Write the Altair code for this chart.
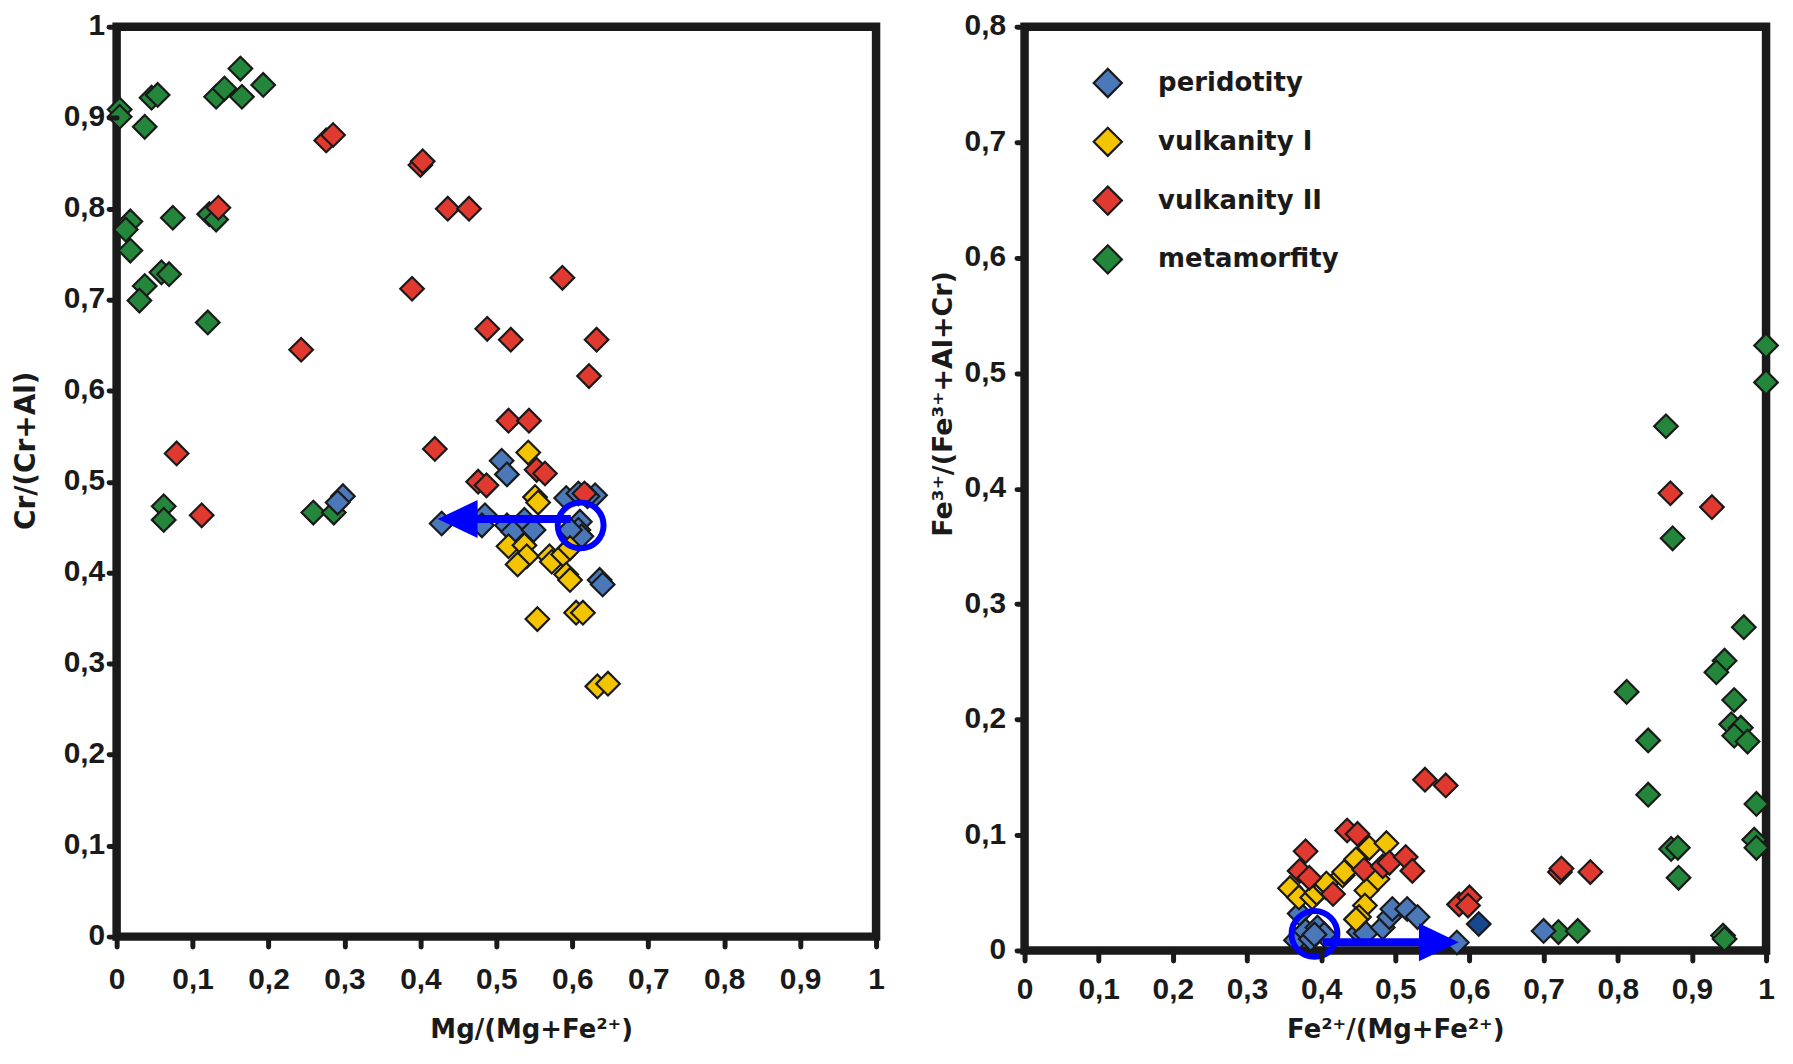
import altair as alt
import pandas as pd

SERIES = ["peridotity", "vulkanity I", "vulkanity II", "metamorfity"]
COLORS = ["#4a78b8", "#f5c400", "#e0392f", "#23863a"]
DRAW_ORDER = {"metamorfity": 0, "peridotity": 1, "vulkanity I": 2, "vulkanity II": 3}

# ---------------- Left panel: Mg/(Mg+Fe2+) vs Cr/(Cr+Al) ----------------
left_peridotity_x = [0.298, 0.291, 0.507, 0.514, 0.428, 0.485, 0.481, 0.514, 0.522, 0.537,
                     0.549, 0.592, 0.608, 0.630, 0.610, 0.608, 0.612, 0.597, 0.636, 0.640, 0.620]
left_peridotity_y = [0.484, 0.477, 0.523, 0.508, 0.454, 0.463, 0.452, 0.452, 0.445, 0.458,
                     0.447, 0.482, 0.487, 0.485, 0.456, 0.447, 0.440, 0.447, 0.392, 0.387, 0.484]

left_vulk1_x = [0.542, 0.551, 0.555, 0.516, 0.537, 0.540, 0.528, 0.570, 0.573, 0.588,
                0.597, 0.592, 0.597, 0.554, 0.605, 0.614, 0.633, 0.647]
left_vulk1_y = [0.532, 0.483, 0.477, 0.429, 0.430, 0.418, 0.409, 0.418, 0.412, 0.420,
                0.427, 0.398, 0.392, 0.349, 0.356, 0.356, 0.275, 0.278]

left_vulk2_x = [0.134, 0.276, 0.285, 0.400, 0.403, 0.436, 0.464, 0.389, 0.587, 0.488,
                0.519, 0.632, 0.622, 0.243, 0.079, 0.419, 0.516, 0.543, 0.553, 0.564,
                0.476, 0.487, 0.616, 0.112]
left_vulk2_y = [0.801, 0.875, 0.881, 0.848, 0.852, 0.800, 0.800, 0.712, 0.724, 0.668,
                0.656, 0.656, 0.616, 0.645, 0.531, 0.536, 0.567, 0.567, 0.513, 0.509,
                0.500, 0.496, 0.487, 0.463]

left_meta_x = [0.004, 0.004, 0.037, 0.046, 0.054, 0.163, 0.131, 0.142, 0.165, 0.193,
               0.018, 0.012, 0.018, 0.074, 0.122, 0.131, 0.059, 0.069, 0.037, 0.030,
               0.120, 0.062, 0.062, 0.259, 0.286]
left_meta_y = [0.909, 0.901, 0.890, 0.922, 0.925, 0.954, 0.923, 0.932, 0.923, 0.936,
               0.786, 0.777, 0.754, 0.790, 0.794, 0.788, 0.730, 0.728, 0.715, 0.699,
               0.675, 0.473, 0.458, 0.466, 0.466]

# annotation (blue circle + arrow) of the left panel
left_circle_x = [0.611]
left_circle_y = [0.452]
left_arrow_x1 = [0.598]
left_arrow_x2 = [0.449]
left_arrow_y = [0.459]

# ---------------- Right panel: Fe2+/(Mg+Fe2+) vs Fe3+/(Fe3+ +Al+Cr) ----------------
right_peridotity_x = [0.366, 0.371, 0.379, 0.395, 0.404, 0.386, 0.391, 0.451, 0.460, 0.483,
                      0.492, 0.496, 0.516, 0.530, 0.583, 0.700]
right_peridotity_y = [0.009, 0.032, 0.017, 0.020, 0.014, 0.010, 0.014, 0.016, 0.015, 0.020,
                      0.029, 0.036, 0.036, 0.029, 0.007, 0.017]
right_dark_x = [0.6125]
right_dark_y = [0.023]

right_vulk1_x = [0.358, 0.370, 0.388, 0.394, 0.406, 0.407, 0.429, 0.431, 0.447, 0.465,
                 0.488, 0.476, 0.461, 0.459, 0.451, 0.447]
right_vulk1_y = [0.054, 0.046, 0.046, 0.050, 0.055, 0.058, 0.065, 0.068, 0.079, 0.089,
                 0.093, 0.062, 0.052, 0.039, 0.029, 0.027]

right_vulk2_x = [0.540, 0.568, 0.435, 0.449, 0.379, 0.371, 0.384, 0.416, 0.458, 0.483,
                 0.492, 0.514, 0.523, 0.586, 0.600, 0.598, 0.722, 0.724, 0.763, 0.871, 0.927]
right_vulk2_y = [0.148, 0.143, 0.104, 0.101, 0.086, 0.069, 0.063, 0.049, 0.070, 0.073,
                 0.076, 0.081, 0.069, 0.040, 0.046, 0.039, 0.068, 0.071, 0.068, 0.396, 0.384]

right_meta_x = [1.000, 1.000, 0.865, 0.874, 0.970, 0.944, 0.933, 0.812, 0.957, 0.953,
                0.966, 0.957, 0.975, 0.841, 0.841, 0.987, 0.872, 0.881, 0.984, 0.987,
                0.882, 0.942, 0.944, 0.720, 0.746]
right_meta_y = [0.524, 0.492, 0.454, 0.357, 0.280, 0.251, 0.241, 0.224, 0.217, 0.196,
                0.193, 0.186, 0.181, 0.182, 0.135, 0.127, 0.088, 0.089, 0.096, 0.089,
                0.063, 0.013, 0.010, 0.016, 0.017]

right_circle_x = [0.391]
right_circle_y = [0.0144]
right_arrow_x1 = [0.402]
right_arrow_x2 = [0.5587]
right_arrow_y = [0.0072]

X_TICKS = [0, 0.1, 0.2, 0.3, 0.4, 0.5, 0.6, 0.7, 0.8, 0.9, 1]
Y_TICKS_LEFT = [0, 0.1, 0.2, 0.3, 0.4, 0.5, 0.6, 0.7, 0.8, 0.9, 1]
Y_TICKS_RIGHT = [0, 0.1, 0.2, 0.3, 0.4, 0.5, 0.6, 0.7, 0.8]


def build(series_lists):
    rows = []
    for name, xs, ys in series_lists:
        for x, y in zip(xs, ys):
            rows.append({"x": x, "y": y, "series": name, "z": DRAW_ORDER[name]})
    return pd.DataFrame(rows)


left_df = build([
    ("metamorfity", left_meta_x, left_meta_y),
    ("peridotity", left_peridotity_x, left_peridotity_y),
    ("vulkanity I", left_vulk1_x, left_vulk1_y),
    ("vulkanity II", left_vulk2_x, left_vulk2_y),
])
right_df = build([
    ("metamorfity", right_meta_x, right_meta_y),
    ("peridotity", right_peridotity_x, right_peridotity_y),
    ("vulkanity I", right_vulk1_x, right_vulk1_y),
    ("vulkanity II", right_vulk2_x, right_vulk2_y),
])

INK = "#1a1a1a"
BLUE = "#0000ff"
LABEL_EXPR = "replace(format(datum.value, '.1~f'), '.', ',')"
TICK_FONT = "Liberation Sans, Arial, sans-serif"
TITLE_FONT = "DejaVu Sans, sans-serif"
HEAD = "M-1,0L1,-0.95L1,0.95Z"
HEAD_R = "M1,0L-1,-0.95L-1,0.95Z"
PT_SIZE = 560


def common_axis(**kw):
    base = dict(grid=False, domain=False, labelExpr=LABEL_EXPR, labelFont=TICK_FONT,
                labelFontWeight="bold", labelFontSize=30, labelColor=INK,
                labelFlush=False, labelOverlap=False, labelBound=False,
                tickColor=INK, tickWidth=5, tickCap="round",
                titleFont=TITLE_FONT, titleFontWeight="bold", titleColor=INK,
                titleBaseline="alphabetic", titleAlign="center", zindex=1)
    base.update(kw)
    return alt.Axis(**base)


def panel(df, width, height, ymax, xaxis, yaxis, legend, circ, arrow, head_shape, head_x,
          extra=None):
    xs = alt.Scale(domain=[0, 1], nice=False, zero=False)
    ys = alt.Scale(domain=[0, ymax], nice=False, zero=False)
    pts = alt.Chart(df).mark_point(
        shape="diamond", filled=True, size=PT_SIZE, stroke=INK, strokeWidth=2.2, opacity=1
    ).encode(
        x=alt.X("x:Q", scale=xs, axis=xaxis),
        y=alt.Y("y:Q", scale=ys, axis=yaxis),
        color=alt.Color("series:N", scale=alt.Scale(domain=SERIES, range=COLORS), legend=legend),
        order=alt.Order("z:Q"),
    )
    layers = [pts]
    if extra is not None:
        ex, ey, ecolor = extra
        layers.append(alt.Chart(pd.DataFrame({"x": ex, "y": ey})).mark_point(
            shape="diamond", filled=True, size=PT_SIZE, fill=ecolor, stroke=INK,
            strokeWidth=2.2, opacity=1
        ).encode(x=alt.X("x:Q", scale=xs), y=alt.Y("y:Q", scale=ys)))
    cx, cy = circ
    ax1, ax2, ay = arrow
    circ_df = pd.DataFrame({"x": cx, "y": cy})
    arr_df = pd.DataFrame({"x1": ax1, "x2": ax2, "y": ay})
    head_df = pd.DataFrame({"x": head_x, "y": ay})
    layers.append(alt.Chart(arr_df).mark_rule(color=BLUE, strokeWidth=8).encode(
        x=alt.X("x1:Q", scale=xs), x2="x2:Q", y=alt.Y("y:Q", scale=ys)))
    layers.append(alt.Chart(head_df).mark_point(
        shape=head_shape, filled=True, fill=BLUE, size=1600, strokeWidth=0, opacity=1
    ).encode(x=alt.X("x:Q", scale=xs), y=alt.Y("y:Q", scale=ys)))
    layers.append(alt.Chart(circ_df).mark_point(
        shape="circle", filled=False, size=2116, stroke=BLUE, strokeWidth=6, opacity=1
    ).encode(x=alt.X("x:Q", scale=xs), y=alt.Y("y:Q", scale=ys)))
    return alt.layer(*layers).properties(width=width, height=height)


left = panel(
    left_df, 762, 913, 1,
    common_axis(values=X_TICKS, tickSize=10, labelPadding=18,
                title="Mg/(Mg+Fe²⁺)", titleFontSize=26, titleX=416, titleY=101),
    common_axis(values=Y_TICKS_LEFT, tickSize=8, labelPadding=4, labelOffset=-1,
                title="Cr/(Cr+Al)", titleFontSize=28, titleX=-82, titleY=425, titleAngle=270),
    None,
    (left_circle_x, left_circle_y),
    (left_arrow_x1, left_arrow_x2, left_arrow_y),
    HEAD, left_arrow_x2,
)

legend = alt.Legend(
    orient="none", legendX=68, legendY=41, title=None, symbolType="diamond", symbolSize=800,
    symbolStrokeColor=INK, symbolStrokeWidth=2.2, symbolOpacity=1,
    labelFont=TITLE_FONT, labelFontWeight="bold", labelFontSize=26, labelColor=INK,
    labelOffset=35, rowPadding=20, padding=0, labelLimit=0,
)

right = panel(
    right_df, 744, 927, 0.8,
    common_axis(values=X_TICKS, tickSize=10, labelPadding=14,
                title="Fe²⁺/(Mg+Fe²⁺)", titleFontSize=26, titleX=372, titleY=87),
    common_axis(values=Y_TICKS_RIGHT, tickSize=8, labelPadding=11, labelOffset=-1,
                title="Fe³⁺/(Fe³⁺+Al+Cr)", titleFontSize=27, titleX=-73, titleY=378, titleAngle=270),
    legend,
    (right_circle_x, right_circle_y),
    (right_arrow_x1, right_arrow_x2, right_arrow_y),
    HEAD_R, right_arrow_x2,
    extra=(right_dark_x, right_dark_y, "#17478f"),
)

chart = alt.hconcat(left, right, spacing=36).resolve_scale(color="independent").properties(
    padding={"left": 0, "top": -4, "right": -2, "bottom": 0},
    background="white",
).configure_view(stroke=INK, strokeWidth=8.5)

chart.save("out.html", embed_options={"renderer": "svg", "actions": False})
